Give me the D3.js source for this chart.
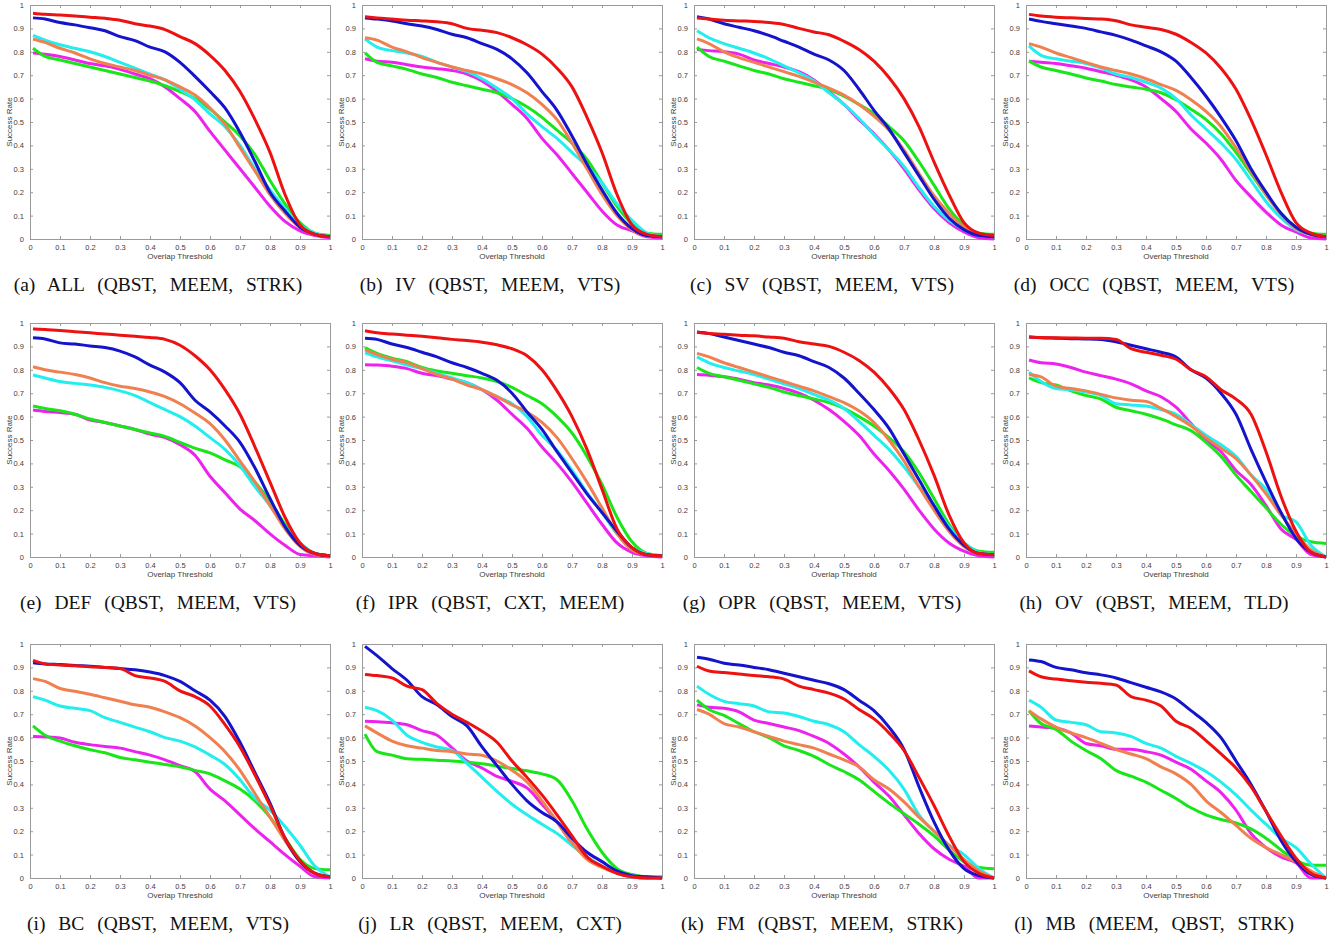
<!DOCTYPE html>
<html>
<head>
<meta charset="utf-8">
<script src="https://cdn.jsdelivr.net/npm/d3@7"></script>
<style>
  body { margin: 0; background: #fff; }
  .tick text { font-family: "Liberation Sans", Arial, sans-serif; font-size: 7.5px; fill: #404040; }
</style>
</head>
<body>
<div id="chart"></div>
<script>
const thresholds = [0.01,0.05,0.1,0.15,0.2,0.25,0.3,0.35,0.4,0.45,0.5,0.55,0.6,0.65,0.7,0.75,0.8,0.85,0.9,0.95,1];
const tickValues = [0,0.1,0.2,0.3,0.4,0.5,0.6,0.7,0.8,0.9,1];

const captions = [
  "(a) ALL (QBST, MEEM, STRK)", "(b) IV (QBST, MEEM, VTS)", "(c) SV (QBST, MEEM, VTS)", "(d) OCC (QBST, MEEM, VTS)",
  "(e) DEF (QBST, MEEM, VTS)", "(f) IPR (QBST, CXT, MEEM)", "(g) OPR (QBST, MEEM, VTS)", "(h) OV (QBST, MEEM, TLD)",
  "(i) BC (QBST, MEEM, VTS)", "(j) LR (QBST, MEEM, CXT)", "(k) FM (QBST, MEEM, STRK)", "(l) MB (MEEM, QBST, STRK)"
];

// each panel: red, blue, orange, cyan, green, magenta
const ALL = [
  [0.965,0.96,0.957,0.953,0.948,0.943,0.935,0.92,0.91,0.895,0.865,0.835,0.785,0.72,0.63,0.51,0.37,0.19,0.06,0.02,0.01],
  [0.945,0.94,0.925,0.915,0.903,0.89,0.865,0.848,0.82,0.8,0.755,0.695,0.63,0.56,0.455,0.33,0.2,0.12,0.05,0.02,0.01],
  [0.855,0.84,0.815,0.795,0.77,0.75,0.735,0.72,0.7,0.68,0.65,0.615,0.56,0.49,0.39,0.29,0.19,0.11,0.05,0.02,0.01],
  [0.87,0.85,0.83,0.815,0.8,0.78,0.755,0.73,0.705,0.68,0.64,0.595,0.535,0.48,0.4,0.3,0.21,0.13,0.06,0.025,0.01],
  [0.815,0.78,0.765,0.75,0.735,0.72,0.705,0.69,0.675,0.655,0.63,0.6,0.555,0.5,0.44,0.36,0.25,0.15,0.07,0.025,0.015],
  [0.795,0.79,0.78,0.765,0.75,0.74,0.725,0.705,0.685,0.65,0.6,0.545,0.46,0.38,0.3,0.22,0.14,0.075,0.035,0.015,0.005]
];
const IV = [
  [0.95,0.945,0.94,0.935,0.932,0.928,0.92,0.9,0.892,0.882,0.86,0.83,0.79,0.73,0.65,0.52,0.37,0.19,0.06,0.02,0.01],
  [0.945,0.94,0.932,0.92,0.91,0.895,0.875,0.86,0.835,0.81,0.77,0.71,0.63,0.55,0.44,0.32,0.21,0.11,0.045,0.015,0.01],
  [0.86,0.85,0.82,0.8,0.775,0.755,0.735,0.72,0.705,0.685,0.66,0.625,0.575,0.51,0.41,0.3,0.19,0.1,0.04,0.015,0.01],
  [0.855,0.82,0.805,0.795,0.78,0.755,0.735,0.715,0.685,0.645,0.6,0.535,0.48,0.43,0.37,0.31,0.24,0.15,0.08,0.025,0.01],
  [0.795,0.755,0.74,0.725,0.705,0.69,0.67,0.655,0.64,0.625,0.6,0.565,0.52,0.465,0.41,0.34,0.24,0.14,0.065,0.025,0.02],
  [0.77,0.76,0.755,0.745,0.735,0.728,0.72,0.705,0.675,0.63,0.575,0.515,0.43,0.36,0.28,0.2,0.12,0.06,0.035,0.01,0.005]
];
const SV = [
  [0.945,0.94,0.935,0.932,0.93,0.925,0.917,0.9,0.885,0.873,0.845,0.81,0.76,0.69,0.6,0.48,0.33,0.19,0.07,0.025,0.015],
  [0.95,0.94,0.92,0.905,0.89,0.87,0.845,0.82,0.79,0.765,0.72,0.64,0.55,0.47,0.37,0.27,0.17,0.09,0.04,0.015,0.01],
  [0.855,0.835,0.8,0.775,0.755,0.735,0.715,0.695,0.67,0.645,0.615,0.575,0.525,0.465,0.38,0.28,0.185,0.11,0.05,0.02,0.01],
  [0.89,0.86,0.835,0.815,0.795,0.77,0.74,0.71,0.675,0.625,0.575,0.515,0.445,0.38,0.31,0.22,0.14,0.08,0.04,0.015,0.01],
  [0.82,0.78,0.76,0.74,0.72,0.705,0.685,0.67,0.655,0.64,0.61,0.575,0.535,0.48,0.42,0.33,0.23,0.13,0.06,0.025,0.02],
  [0.81,0.805,0.8,0.79,0.765,0.75,0.735,0.715,0.68,0.63,0.575,0.51,0.45,0.38,0.3,0.21,0.13,0.07,0.03,0.005,0]
];
const OCC = [
  [0.96,0.953,0.948,0.945,0.942,0.94,0.933,0.915,0.905,0.895,0.875,0.84,0.795,0.73,0.64,0.51,0.36,0.2,0.07,0.025,0.01],
  [0.94,0.93,0.92,0.91,0.9,0.885,0.87,0.85,0.825,0.8,0.76,0.69,0.61,0.52,0.42,0.3,0.2,0.11,0.05,0.02,0.01],
  [0.835,0.82,0.795,0.775,0.755,0.735,0.72,0.705,0.685,0.66,0.635,0.595,0.545,0.48,0.39,0.29,0.19,0.105,0.045,0.02,0.01],
  [0.825,0.785,0.77,0.76,0.75,0.73,0.705,0.69,0.67,0.645,0.6,0.53,0.47,0.41,0.34,0.25,0.16,0.09,0.04,0.02,0.01],
  [0.76,0.735,0.72,0.705,0.688,0.675,0.66,0.65,0.64,0.625,0.595,0.555,0.51,0.45,0.37,0.28,0.19,0.11,0.05,0.025,0.02],
  [0.76,0.755,0.75,0.74,0.73,0.715,0.7,0.68,0.65,0.6,0.545,0.47,0.41,0.34,0.25,0.18,0.115,0.06,0.03,0.005,0]
];
const DEF = [
  [0.975,0.972,0.968,0.963,0.958,0.953,0.948,0.943,0.938,0.93,0.905,0.86,0.8,0.715,0.61,0.47,0.32,0.17,0.06,0.015,0.005],
  [0.937,0.932,0.915,0.91,0.902,0.895,0.88,0.855,0.82,0.79,0.745,0.67,0.62,0.56,0.49,0.38,0.25,0.13,0.05,0.015,0.005],
  [0.813,0.8,0.79,0.78,0.765,0.745,0.73,0.72,0.705,0.685,0.655,0.615,0.57,0.5,0.41,0.32,0.22,0.12,0.045,0.01,0.005],
  [0.778,0.765,0.75,0.742,0.735,0.725,0.71,0.69,0.66,0.63,0.6,0.56,0.51,0.46,0.39,0.3,0.22,0.13,0.06,0.015,0.005],
  [0.645,0.635,0.625,0.61,0.59,0.575,0.56,0.545,0.53,0.515,0.49,0.465,0.445,0.415,0.385,0.32,0.24,0.14,0.06,0.015,0.005],
  [0.628,0.622,0.617,0.61,0.585,0.575,0.56,0.545,0.525,0.51,0.48,0.435,0.345,0.275,0.205,0.155,0.099,0.05,0.011,0.005,0]
];
const IPR = [
  [0.967,0.958,0.953,0.948,0.943,0.937,0.93,0.925,0.918,0.907,0.89,0.86,0.8,0.71,0.6,0.46,0.29,0.12,0.04,0.01,0.005],
  [0.935,0.93,0.91,0.895,0.875,0.855,0.83,0.81,0.785,0.755,0.7,0.62,0.545,0.45,0.36,0.27,0.19,0.11,0.04,0.01,0.005],
  [0.885,0.865,0.845,0.83,0.805,0.78,0.76,0.735,0.715,0.685,0.65,0.62,0.575,0.51,0.42,0.32,0.21,0.1,0.03,0.01,0.005],
  [0.873,0.855,0.838,0.82,0.805,0.785,0.765,0.745,0.715,0.685,0.655,0.6,0.52,0.455,0.37,0.275,0.19,0.1,0.04,0.015,0.005],
  [0.895,0.87,0.85,0.835,0.81,0.795,0.785,0.775,0.765,0.75,0.725,0.69,0.655,0.6,0.53,0.43,0.31,0.17,0.065,0.015,0.005],
  [0.822,0.82,0.815,0.805,0.785,0.775,0.76,0.745,0.715,0.67,0.61,0.55,0.47,0.4,0.32,0.23,0.14,0.06,0.02,0.005,0]
];
const OPR = [
  [0.96,0.955,0.952,0.948,0.945,0.94,0.935,0.92,0.91,0.9,0.875,0.84,0.79,0.72,0.63,0.5,0.35,0.18,0.06,0.015,0.01],
  [0.962,0.955,0.94,0.925,0.91,0.895,0.875,0.86,0.835,0.81,0.765,0.7,0.63,0.55,0.44,0.33,0.22,0.12,0.05,0.015,0.01],
  [0.87,0.855,0.83,0.81,0.79,0.77,0.75,0.73,0.71,0.685,0.66,0.625,0.575,0.5,0.41,0.3,0.2,0.11,0.045,0.015,0.01],
  [0.855,0.83,0.81,0.795,0.78,0.76,0.74,0.72,0.695,0.67,0.635,0.58,0.52,0.46,0.385,0.3,0.22,0.13,0.06,0.02,0.01],
  [0.81,0.785,0.77,0.755,0.74,0.725,0.705,0.69,0.675,0.66,0.635,0.6,0.56,0.51,0.45,0.36,0.25,0.14,0.06,0.025,0.02],
  [0.78,0.777,0.77,0.76,0.745,0.735,0.72,0.7,0.67,0.63,0.58,0.52,0.44,0.37,0.29,0.2,0.12,0.06,0.025,0.005,0]
];
const OV = [
  [0.94,0.938,0.937,0.936,0.935,0.935,0.93,0.89,0.875,0.862,0.845,0.8,0.77,0.715,0.675,0.61,0.45,0.26,0.11,0.02,0],
  [0.94,0.937,0.935,0.933,0.932,0.93,0.92,0.905,0.89,0.875,0.855,0.8,0.765,0.7,0.61,0.46,0.32,0.19,0.08,0.02,0],
  [0.78,0.77,0.73,0.72,0.71,0.695,0.68,0.67,0.665,0.635,0.6,0.56,0.51,0.465,0.42,0.35,0.27,0.18,0.1,0.03,0],
  [0.79,0.75,0.72,0.715,0.705,0.69,0.655,0.65,0.645,0.63,0.61,0.565,0.52,0.48,0.43,0.35,0.29,0.18,0.15,0.05,0],
  [0.765,0.745,0.735,0.71,0.69,0.675,0.64,0.625,0.61,0.59,0.565,0.54,0.49,0.43,0.35,0.28,0.21,0.14,0.09,0.065,0.058],
  [0.842,0.83,0.825,0.81,0.79,0.775,0.76,0.74,0.71,0.685,0.64,0.57,0.5,0.45,0.37,0.31,0.22,0.12,0.075,0.01,0]
];
const BC = [
  [0.93,0.915,0.91,0.907,0.903,0.9,0.895,0.865,0.855,0.84,0.8,0.775,0.735,0.655,0.56,0.44,0.31,0.17,0.075,0.02,0.005],
  [0.92,0.915,0.912,0.908,0.905,0.9,0.895,0.89,0.88,0.865,0.84,0.8,0.76,0.69,0.58,0.45,0.32,0.17,0.07,0.02,0.005],
  [0.852,0.84,0.81,0.798,0.785,0.77,0.755,0.74,0.73,0.71,0.685,0.65,0.6,0.54,0.46,0.36,0.26,0.16,0.07,0.02,0.005],
  [0.775,0.76,0.735,0.725,0.715,0.685,0.665,0.645,0.625,0.6,0.585,0.56,0.525,0.485,0.42,0.34,0.29,0.22,0.14,0.05,0.005],
  [0.65,0.61,0.585,0.565,0.548,0.535,0.515,0.505,0.495,0.485,0.475,0.46,0.445,0.415,0.38,0.33,0.26,0.17,0.08,0.04,0.035],
  [0.605,0.603,0.598,0.58,0.57,0.562,0.555,0.54,0.525,0.505,0.48,0.455,0.38,0.33,0.27,0.21,0.155,0.1,0.05,0.005,0]
];
const LR = [
  [0.87,0.865,0.855,0.82,0.805,0.745,0.7,0.665,0.627,0.58,0.5,0.43,0.355,0.27,0.18,0.09,0.05,0.02,0.005,0,0],
  [0.99,0.95,0.895,0.845,0.775,0.74,0.69,0.65,0.56,0.48,0.4,0.33,0.28,0.24,0.17,0.11,0.07,0.03,0.01,0.005,0],
  [0.65,0.62,0.585,0.565,0.555,0.545,0.54,0.53,0.525,0.5,0.46,0.41,0.33,0.24,0.15,0.08,0.045,0.02,0.005,0,0],
  [0.73,0.715,0.675,0.61,0.58,0.56,0.545,0.49,0.43,0.37,0.315,0.27,0.23,0.19,0.14,0.09,0.05,0.025,0.01,0.005,0],
  [0.615,0.54,0.525,0.51,0.507,0.503,0.5,0.495,0.488,0.478,0.468,0.458,0.445,0.42,0.33,0.21,0.11,0.04,0.015,0.005,0.005],
  [0.67,0.668,0.663,0.655,0.63,0.61,0.556,0.5,0.47,0.434,0.413,0.385,0.315,0.24,0.15,0.09,0.05,0.02,0.005,0,0]
];
const FM = [
  [0.905,0.885,0.878,0.872,0.865,0.86,0.85,0.82,0.805,0.79,0.765,0.72,0.68,0.62,0.545,0.43,0.31,0.18,0.07,0.02,0],
  [0.943,0.935,0.918,0.91,0.9,0.89,0.875,0.86,0.845,0.83,0.805,0.76,0.715,0.645,0.55,0.39,0.24,0.12,0.04,0.01,0],
  [0.72,0.7,0.66,0.645,0.625,0.605,0.585,0.57,0.555,0.53,0.505,0.475,0.42,0.38,0.325,0.26,0.2,0.14,0.08,0.03,0],
  [0.82,0.785,0.755,0.745,0.735,0.71,0.705,0.69,0.67,0.655,0.625,0.57,0.52,0.46,0.38,0.27,0.2,0.14,0.1,0.04,0],
  [0.76,0.72,0.695,0.66,0.625,0.6,0.565,0.545,0.52,0.485,0.455,0.42,0.37,0.32,0.275,0.23,0.18,0.12,0.07,0.045,0.04],
  [0.74,0.73,0.725,0.71,0.675,0.66,0.645,0.63,0.605,0.575,0.53,0.475,0.41,0.35,0.27,0.19,0.125,0.08,0.05,0,0]
];
const MB = [
  [0.885,0.86,0.85,0.843,0.837,0.832,0.825,0.775,0.76,0.735,0.67,0.64,0.587,0.53,0.47,0.39,0.285,0.18,0.085,0.02,0],
  [0.932,0.925,0.9,0.89,0.877,0.868,0.855,0.835,0.815,0.795,0.765,0.715,0.665,0.6,0.5,0.4,0.285,0.16,0.07,0.015,0],
  [0.715,0.68,0.645,0.62,0.6,0.575,0.55,0.53,0.51,0.475,0.445,0.4,0.33,0.28,0.225,0.17,0.13,0.1,0.07,0.03,0],
  [0.76,0.73,0.675,0.665,0.655,0.625,0.62,0.605,0.575,0.555,0.52,0.49,0.455,0.41,0.355,0.29,0.23,0.17,0.13,0.06,0],
  [0.715,0.66,0.635,0.585,0.545,0.51,0.46,0.435,0.41,0.375,0.34,0.3,0.27,0.25,0.235,0.21,0.17,0.12,0.075,0.055,0.055],
  [0.65,0.645,0.64,0.62,0.575,0.565,0.55,0.55,0.54,0.525,0.495,0.465,0.415,0.365,0.29,0.19,0.13,0.09,0.065,0,0]
];

const panels = [ALL, IV, SV, OCC, DEF, IPR, OPR, OV, BC, LR, FM, MB];
const colors = ["#ee1111", "#1414cc", "#f08050", "#22eeee", "#19e619", "#ee22ee"];

// layout of the 4x3 grid of small plots
var colLeft = [30, 362, 694, 1026], rowTop = [5, 323, 644];
var w = 300, h = 234;

var svg = d3.select("#chart").append("svg")
  .attr("width", 1340)
  .attr("height", 941)
  .style("background", "#fff");

var x = d3.scaleLinear().domain([0, 1]).range([0, w]);
var y = d3.scaleLinear().domain([0, 1]).range([h, 0]);
var fmt = d => d === 0 ? "0" : d === 1 ? "1" : d.toFixed(1);

var line = d3.line()
  .x((d, i) => x(thresholds[i]))
  .y(d => y(d))
  .curve(d3.curveMonotoneX);

panels.forEach(function(series, p) {
  var g = svg.append("g")
    .attr("transform", "translate(" + colLeft[p % 4] + "," + rowTop[Math.floor(p / 4)] + ")");

  // axes, ticks pointing inward like matlab
  g.append("g").attr("transform", "translate(0," + h + ")")
    .call(d3.axisBottom(x).tickValues(tickValues).tickFormat(fmt).tickSize(-3).tickPadding(6));
  g.append("g")
    .call(d3.axisLeft(y).tickValues(tickValues).tickFormat(fmt).tickSize(-3).tickPadding(6));
  g.append("g")
    .call(d3.axisTop(x).tickValues(tickValues).tickFormat("").tickSize(-3));
  g.append("g").attr("transform", "translate(" + w + ",0)")
    .call(d3.axisRight(y).tickValues(tickValues).tickFormat("").tickSize(-3));
  g.selectAll(".domain, .tick line").attr("stroke", "#9a9a9a");

  // draw red last so it sits on top
  for (var s = series.length - 1; s >= 0; s--) {
    g.append("path")
      .datum(series[s])
      .attr("d", line)
      .attr("fill", "none")
      .attr("stroke", colors[s])
      .attr("stroke-width", 3)
      .attr("stroke-linejoin", "round");
  }

  g.append("text")
    .attr("transform", "translate(-18," + (h / 2) + ")rotate(-90)")
    .attr("text-anchor", "middle")
    .style("font", "8px 'Liberation Sans', Arial, sans-serif")
    .attr("fill", "#404040")
    .text("Success Rate");

  g.append("text")
    .attr("x", w / 2)
    .attr("y", h + 20)
    .attr("text-anchor", "middle")
    .style("font", "8px 'Liberation Sans', Arial, sans-serif")
    .attr("fill", "#404040")
    .text("Overlap Threshold");

  g.append("text")
    .attr("x", 128)
    .attr("y", h + 52)
    .attr("text-anchor", "middle")
    .style("font", "19.5px 'Liberation Serif', 'Times New Roman', serif")
    .style("word-spacing", "8px")
    .attr("fill", "#111")
    .text(captions[p]);
});
</script>
</body>
</html>
